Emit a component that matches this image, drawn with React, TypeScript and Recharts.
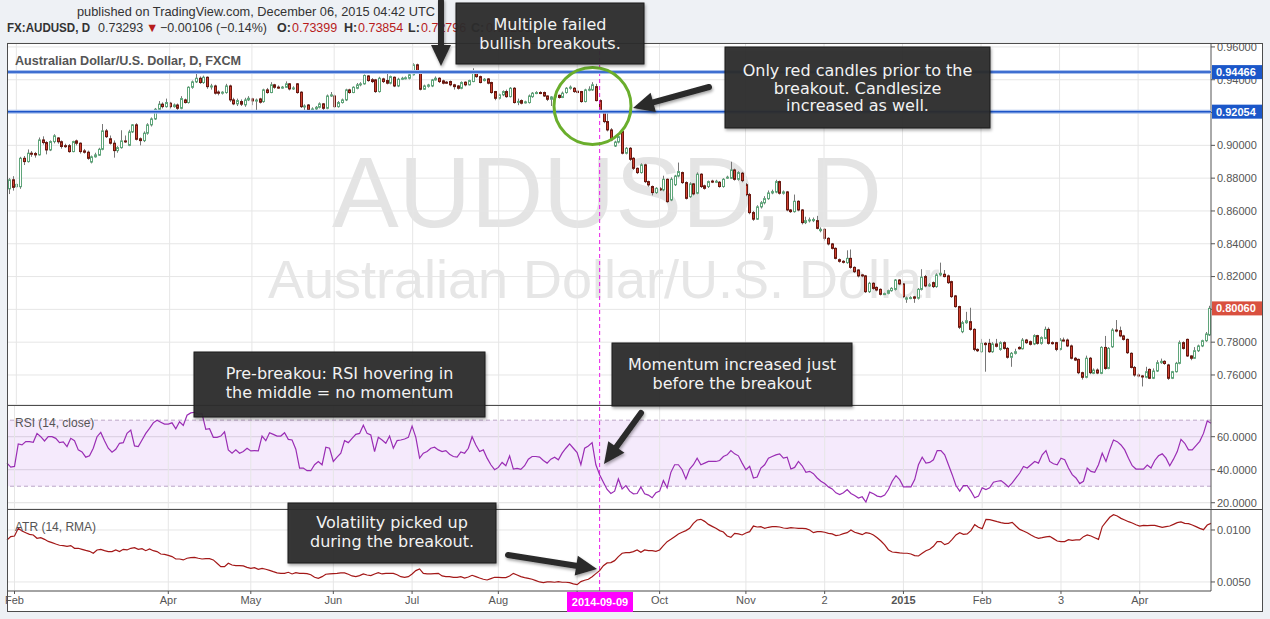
import React from "react";
import {
  ComposedChart,
  Bar,
  Line,
  XAxis,
  YAxis,
  CartesianGrid,
  ReferenceLine,
  ReferenceArea,
} from "recharts";

// daily AUD/USD candles, prices in pips (x 1e-4)
const opens = [
  8735, 8790, 8748, 8748, 8921, 8901, 8952, 8950, 8942, 9033,
  9017, 8972, 9023, 9045, 9022, 8998, 8998, 8962, 9027, 9013,
  8966, 8958, 8898, 8930, 8940, 8976, 9088, 9040, 9013, 8968,
  8986, 9027, 9000, 9082, 9125, 9040, 9029, 9074, 9125, 9161,
  9220, 9251, 9236, 9257, 9236, 9246, 9226, 9277, 9261, 9354,
  9387, 9409, 9383, 9415, 9358, 9362, 9325, 9318, 9322, 9362,
  9277, 9253, 9267, 9247, 9277, 9283, 9271, 9283, 9267, 9338,
  9322, 9369, 9355, 9352, 9354, 9375, 9344, 9375, 9324, 9236,
  9246, 9218, 9222, 9232, 9253, 9226, 9301, 9301, 9236, 9261,
  9277, 9338, 9322, 9348, 9369, 9375, 9423, 9400, 9399, 9328,
  9405, 9395, 9379, 9415, 9362, 9403, 9409, 9409, 9430, 9491,
  9440, 9342, 9360, 9362, 9399, 9409, 9393, 9385, 9389, 9369,
  9362, 9348, 9385, 9369, 9389, 9450, 9419, 9395, 9405, 9383,
  9328, 9287, 9308, 9328, 9297, 9348, 9265, 9273, 9260, 9261,
  9297, 9318, 9322, 9322, 9301, 9281, 9295, 9305, 9292, 9322,
  9348, 9348, 9330, 9328, 9267, 9338, 9338, 9358, 9273, 9206,
  9145, 9094, 8996, 9020, 9084, 8952, 8982, 8921, 8860, 8834,
  8881, 8779, 8749, 8712, 8735, 8728, 8793, 8667, 8760, 8813,
  8834, 8773, 8687, 8765, 8708, 8824, 8753, 8749, 8782, 8775,
  8775, 8749, 8800, 8799, 8850, 8793, 8830, 8760, 8700, 8590,
  8550, 8625, 8650, 8675, 8710, 8715, 8779, 8708, 8716, 8606,
  8596, 8659, 8606, 8529, 8540, 8541, 8541, 8480, 8488, 8433,
  8399, 8372, 8303, 8293, 8285, 8311, 8256, 8240, 8210, 8204,
  8108, 8159, 8134, 8122, 8092, 8098, 8114, 8122, 8179, 8155,
  8062, 8070, 8076, 8068, 8122, 8200, 8143, 8163, 8139, 8210,
  8214, 8204, 8169, 8082, 8017, 7864, 7919, 7925, 7878, 7756,
  7742, 7793, 7793, 7742, 7789, 7756, 7797, 7762, 7708, 7732,
  7768, 7760, 7813, 7803, 7789, 7840, 7793, 7823, 7878, 7797,
  7797, 7756, 7813, 7813, 7777, 7702, 7695, 7614, 7586, 7702,
  7610, 7630, 7610, 7768, 7640, 7772, 7874, 7870, 7838, 7817,
  7732, 7646, 7600, 7594, 7586, 7634, 7580, 7624, 7675, 7683,
  7661, 7580, 7620, 7671, 7797, 7817, 7716, 7702, 7748, 7777,
  7809, 7844,
];

const highs = [
  8800, 8812, 8770, 8930, 8935, 8975, 8965, 8960, 9048, 9055,
  9025, 9030, 9068, 9050, 9030, 9010, 9008, 9028, 9035, 9018,
  8978, 8968, 8938, 8955, 8985, 9130, 9100, 9060, 9030, 8995,
  9092, 9060, 9095, 9130, 9135, 9048, 9085, 9135, 9170, 9228,
  9270, 9262, 9285, 9265, 9255, 9255, 9300, 9285, 9360, 9395,
  9460, 9420, 9425, 9420, 9375, 9370, 9335, 9330, 9375, 9370,
  9290, 9285, 9280, 9290, 9300, 9290, 9285, 9290, 9345, 9350,
  9385, 9375, 9365, 9362, 9390, 9380, 9360, 9380, 9330, 9250,
  9252, 9232, 9240, 9262, 9258, 9310, 9325, 9310, 9270, 9285,
  9345, 9345, 9360, 9380, 9385, 9432, 9428, 9410, 9405, 9418,
  9412, 9440, 9425, 9420, 9412, 9418, 9420, 9438, 9501, 9498,
  9445, 9370, 9375, 9405, 9420, 9415, 9400, 9392, 9395, 9375,
  9368, 9390, 9390, 9400, 9470, 9455, 9425, 9410, 9410, 9388,
  9332, 9315, 9335, 9340, 9355, 9355, 9285, 9280, 9272, 9310,
  9325, 9330, 9330, 9328, 9305, 9300, 9312, 9310, 9328, 9355,
  9365, 9355, 9335, 9332, 9345, 9360, 9385, 9375, 9280, 9215,
  9200, 9105, 9028, 9075, 9090, 8990, 8990, 8928, 8865, 8890,
  8888, 8785, 8755, 8745, 8745, 8815, 8798, 8805, 8820, 8895,
  8840, 8780, 8775, 8770, 8835, 8830, 8760, 8785, 8790, 8790,
  8782, 8800, 8815, 8900, 8858, 8842, 8838, 8770, 8710, 8600,
  8635, 8660, 8690, 8725, 8730, 8790, 8785, 8725, 8722, 8612,
  8700, 8665, 8612, 8565, 8560, 8560, 8570, 8500, 8495, 8440,
  8405, 8378, 8310, 8300, 8360, 8365, 8262, 8245, 8215, 8210,
  8168, 8165, 8140, 8128, 8102, 8120, 8135, 8185, 8185, 8160,
  8078, 8080, 8082, 8130, 8245, 8210, 8160, 8170, 8220, 8285,
  8240, 8212, 8175, 8088, 8022, 7930, 7985, 8010, 7885, 7762,
  7820, 7800, 7820, 7800, 7820, 7805, 7805, 7770, 7740, 7760,
  7775, 7825, 7820, 7810, 7848, 7845, 7835, 7895, 7890, 7805,
  7802, 7825, 7828, 7822, 7785, 7710, 7700, 7620, 7718, 7710,
  7640, 7640, 7775, 7838, 7770, 7885, 7935, 7895, 7845, 7822,
  7738, 7655, 7610, 7600, 7650, 7640, 7640, 7690, 7700, 7690,
  7668, 7625, 7680, 7810, 7805, 7822, 7720, 7770, 7785, 7815,
  7862, 8022,
];

const lows = [
  8703, 8724, 8740, 8735, 8880, 8895, 8930, 8925, 8938, 9005,
  8945, 8965, 9012, 9010, 8980, 8985, 8955, 8958, 9000, 8950,
  8950, 8912, 8890, 8925, 8935, 8970, 9045, 9005, 8925, 8955,
  8980, 9015, 8995, 9075, 9030, 9000, 9020, 9065, 9115, 9155,
  9215, 9225, 9230, 9225, 9230, 9215, 9220, 9255, 9255, 9345,
  9380, 9375, 9375, 9345, 9340, 9310, 9305, 9310, 9315, 9265,
  9245, 9240, 9240, 9235, 9270, 9245, 9210, 9255, 9260, 9315,
  9318, 9345, 9345, 9345, 9350, 9335, 9338, 9315, 9228, 9215,
  9210, 9210, 9215, 9225, 9210, 9220, 9295, 9228, 9230, 9255,
  9270, 9315, 9318, 9342, 9360, 9370, 9388, 9380, 9320, 9322,
  9380, 9372, 9372, 9355, 9355, 9398, 9402, 9402, 9425, 9435,
  9335, 9338, 9352, 9355, 9395, 9380, 9372, 9375, 9360, 9340,
  9340, 9342, 9360, 9365, 9385, 9412, 9378, 9390, 9372, 9315,
  9275, 9280, 9300, 9290, 9292, 9255, 9245, 9250, 9255, 9255,
  9290, 9312, 9312, 9295, 9270, 9240, 9288, 9285, 9288, 9315,
  9340, 9320, 9318, 9260, 9262, 9330, 9332, 9268, 9198, 9135,
  9085, 9025, 8990, 9012, 8945, 8945, 8905, 8850, 8825, 8828,
  8770, 8748, 8695, 8705, 8722, 8720, 8650, 8660, 8752, 8805,
  8765, 8670, 8680, 8695, 8702, 8740, 8730, 8740, 8770, 8770,
  8742, 8742, 8795, 8795, 8785, 8785, 8775, 8690, 8580, 8540,
  8545, 8615, 8640, 8668, 8702, 8708, 8700, 8700, 8598, 8588,
  8590, 8598, 8518, 8520, 8530, 8532, 8488, 8470, 8420, 8390,
  8365, 8305, 8285, 8280, 8278, 8248, 8222, 8195, 8196, 8100,
  8100, 8120, 8110, 8085, 8088, 8092, 8108, 8115, 8148, 8070,
  8040, 8062, 8040, 8060, 8115, 8135, 8138, 8130, 8132, 8202,
  8195, 8155, 8070, 8010, 7880, 7855, 7912, 7870, 7745, 7740,
  7735, 7620, 7735, 7735, 7768, 7748, 7755, 7700, 7650, 7725,
  7755, 7755, 7790, 7780, 7782, 7785, 7785, 7818, 7785, 7785,
  7745, 7750, 7805, 7770, 7695, 7685, 7605, 7572, 7580, 7605,
  7605, 7605, 7605, 7632, 7635, 7765, 7860, 7830, 7810, 7728,
  7640, 7590, 7585, 7530, 7580, 7575, 7575, 7618, 7668, 7662,
  7570, 7575, 7615, 7665, 7755, 7710, 7690, 7698, 7740, 7770,
  7802, 7838,
];

const closes = [
  8790, 8744, 8762, 8921, 8901, 8952, 8946, 8942, 9033, 9017,
  8972, 9023, 9058, 9022, 8993, 8996, 8962, 9023, 9013, 8962,
  8958, 8921, 8930, 8942, 8976, 9088, 9053, 9013, 8968, 8986,
  9027, 9023, 9082, 9125, 9037, 9029, 9074, 9125, 9161, 9220,
  9251, 9236, 9261, 9236, 9246, 9226, 9285, 9261, 9354, 9387,
  9409, 9383, 9415, 9358, 9362, 9318, 9318, 9324, 9362, 9277,
  9253, 9273, 9251, 9277, 9287, 9271, 9276, 9263, 9338, 9322,
  9369, 9354, 9352, 9355, 9375, 9344, 9350, 9322, 9236, 9240,
  9216, 9222, 9232, 9253, 9226, 9301, 9308, 9236, 9261, 9277,
  9338, 9322, 9354, 9369, 9375, 9426, 9395, 9389, 9328, 9409,
  9389, 9379, 9419, 9362, 9403, 9409, 9412, 9430, 9491, 9440,
  9342, 9362, 9368, 9399, 9409, 9389, 9379, 9382, 9369, 9358,
  9348, 9383, 9369, 9395, 9456, 9419, 9383, 9403, 9379, 9322,
  9287, 9308, 9328, 9297, 9348, 9261, 9268, 9257, 9265, 9301,
  9318, 9322, 9320, 9301, 9281, 9295, 9305, 9292, 9318, 9348,
  9355, 9328, 9322, 9267, 9338, 9342, 9369, 9273, 9206, 9145,
  9094, 9033, 9020, 9053, 8952, 8982, 8915, 8860, 8834, 8881,
  8779, 8759, 8712, 8738, 8730, 8793, 8657, 8793, 8813, 8840,
  8773, 8677, 8765, 8704, 8824, 8749, 8738, 8779, 8777, 8781,
  8749, 8793, 8806, 8850, 8793, 8834, 8785, 8700, 8590, 8550,
  8625, 8650, 8675, 8710, 8718, 8779, 8708, 8716, 8606, 8596,
  8659, 8606, 8529, 8541, 8546, 8548, 8494, 8488, 8433, 8399,
  8372, 8311, 8293, 8287, 8311, 8256, 8230, 8204, 8204, 8108,
  8159, 8128, 8118, 8092, 8096, 8114, 8128, 8179, 8155, 8078,
  8070, 8072, 8068, 8122, 8196, 8143, 8150, 8139, 8210, 8220,
  8200, 8163, 8078, 8017, 7891, 7919, 7931, 7878, 7756, 7748,
  7793, 7785, 7742, 7789, 7775, 7797, 7762, 7708, 7732, 7742,
  7760, 7813, 7797, 7787, 7840, 7793, 7828, 7878, 7793, 7793,
  7756, 7813, 7812, 7777, 7702, 7691, 7614, 7586, 7702, 7614,
  7630, 7612, 7768, 7640, 7762, 7874, 7868, 7838, 7817, 7736,
  7646, 7600, 7594, 7590, 7620, 7580, 7624, 7675, 7683, 7670,
  7580, 7620, 7671, 7797, 7762, 7716, 7702, 7748, 7777, 7809,
  7850, 8006,
];

// RSI (14, close)
const rsiValues = [
  44, 41.6, 42, 55.6, 55, 57, 57, 56.6, 62, 60,
  57.4, 60, 60, 59, 56.4, 56.8, 54, 59, 57.6, 52,
  50.8, 47.6, 48.4, 53, 60, 62.6, 57.6, 53, 50.6, 52.4,
  56, 56.4, 62, 64, 54.4, 54, 58, 62, 65, 68.4,
  70, 68.8, 67.6, 67.6, 68.4, 64.8, 69, 66.8, 73, 74.4,
  74.8, 73.6, 74, 64.4, 64.8, 59.6, 59.6, 60.4, 63, 52,
  50, 52, 50, 51, 53, 51.4, 51.6, 51.4, 60.4, 57.6,
  62.4, 61.4, 60.4, 60.4, 62.4, 58.4, 58, 52.4, 41, 41,
  39.4, 39.4, 43, 45, 43, 53.6, 53, 45, 47.6, 50,
  57.6, 56.4, 59, 61.4, 62, 67, 62, 61, 51, 59.6,
  58, 56, 60.4, 53, 57.6, 58, 58.6, 59.6, 66.4, 59.6,
  47, 50, 51, 53, 53.6, 52, 51, 51.6, 49.4, 48,
  47.6, 50.8, 50, 53, 60, 55, 51, 52, 47, 43,
  40, 41.4, 44.4, 42.4, 48.4, 40.4, 40.8, 40.2, 42.4, 46.4,
  48, 48, 47.6, 45.6, 44, 46.4, 47.6, 46, 50, 53,
  55.6, 53, 50.4, 43, 53, 54.4, 56.4, 43, 37, 32.4,
  28, 25.6, 27, 34.4, 28.4, 30.4, 27, 25.4, 25.6, 29.6,
  25.4, 24.6, 23, 26, 27, 33.4, 29, 38.4, 43, 43,
  40, 34.4, 40.4, 43, 47, 43, 44, 45, 45, 45,
  45.6, 48, 49, 51.6, 49.6, 48.4, 44, 40, 42, 35,
  35.6, 41, 43, 47, 48, 49, 49.6, 47, 47.6, 40.4,
  41.4, 45, 42.4, 38.4, 39, 37.6, 35, 33, 31.6, 29.6,
  28.4, 26, 25, 26, 28, 25.6, 24.4, 22.8, 23.6, 20.4,
  26.4, 25.4, 24, 23.6, 24.6, 28, 33, 36.4, 34, 29.6,
  29.6, 29.6, 34, 43, 47.6, 44, 44.4, 46, 51.6, 51.6,
  49, 43, 37, 30.4, 27, 30.4, 30.4, 27, 23, 24,
  29, 28, 29, 32.4, 33, 33.4, 31.6, 29.6, 32, 35,
  38, 42, 41, 43, 45, 44, 49, 51.6, 45, 43.6,
  43, 47, 46, 41, 37, 35, 31.6, 33, 41, 39,
  38.4, 43, 50, 45, 52, 58, 57, 55, 52, 47,
  42.4, 40.4, 40.4, 40.4, 42.8, 41, 45.6, 48.4, 49.6, 47,
  42.4, 46.4, 51, 58.4, 56, 52, 52, 54.6, 57.2, 62,
  69.5, 68.2,
];

// ATR (14, RMA) in pips
const atrValues = [
  90.4, 93.6, 94.2, 101.6, 99, 97.4, 95.8, 95.2, 92, 92.6,
  91, 89, 87.8, 86.5, 85.3, 85, 84.3, 85, 82.4, 82.4,
  81.4, 80.4, 79.5, 77.6, 80.8, 81.4, 80.1, 79.2, 79.2, 80.8,
  79.2, 81.4, 80.8, 82.4, 83, 81.4, 82, 80.1, 81.7, 80.1,
  79.2, 76.9, 76.6, 75.6, 74.4, 72.1, 72.1, 71.2, 72.8, 73.4,
  73.7, 72.8, 72.1, 72.4, 72.4, 71.2, 68, 64.7, 64.7, 68,
  66.3, 65.7, 65.7, 65.4, 64.1, 63.1, 63.8, 62.2, 63.1, 62.2,
  61.2, 59.9, 58.7, 58.3, 58.3, 59.3, 57.7, 59, 58.3, 58.3,
  58, 57, 54.5, 53.5, 55.1, 57.4, 57.7, 58, 58.3, 58.7,
  58.7, 57.4, 55.8, 55.1, 56.1, 57.7, 56.7, 56.1, 57.7, 59,
  57.7, 58.3, 58.3, 58.3, 57, 55.1, 54.5, 55.1, 57.7, 60.9,
  62.5, 58.3, 57.7, 57.7, 58, 58.3, 55.8, 55.1, 55.1, 54.5,
  54.5, 55.1, 53.8, 54.8, 56.4, 55.1, 53.8, 52.6, 51.9, 53.2,
  54.5, 54.5, 54.2, 54.2, 55.8, 58.3, 56.7, 55.1, 54.2, 53.5,
  52.6, 51.3, 50, 49.4, 50, 50, 49.7, 50.3, 49.7, 49.7,
  49.4, 48.1, 47.4, 50.3, 51.6, 52.6, 55.1, 58, 60.9, 65.7,
  68.3, 68.6, 70.5, 74.4, 77.6, 78.2, 78.2, 79.2, 80.8, 78.5,
  80.8, 80.1, 80.1, 79.5, 80.8, 84.9, 88.8, 91, 93.6, 96.2,
  97.8, 99.4, 101.6, 106.4, 109.6, 110.3, 108.3, 105.4, 103.5, 101.6,
  99.4, 98.1, 94.2, 92.9, 96.8, 96.2, 95.2, 97.1, 98.4, 103.8,
  102.9, 103.2, 101.6, 102.6, 103.2, 103.2, 102.9, 101.9, 101.6, 102.2,
  101.9, 101.6, 101.6, 101.3, 100, 97.4, 98.4, 98.4, 97.8, 96.8,
  96.2, 94.6, 95.2, 96.5, 97.4, 100, 97.8, 96.8, 95.5, 97.4,
  96.8, 95.2, 92.6, 89.4, 85.6, 80.8, 78.8, 78.5, 77.9, 77.6,
  77.6, 76.9, 75.3, 75, 77.6, 80.1, 81.4, 84.3, 88.8, 88.8,
  85.9, 87.2, 91, 95.2, 97.4, 95.8, 96.2, 99.4, 105.1, 102.6,
  101.3, 110.3, 109.9, 109, 108, 107.1, 106.4, 106.4, 107.4, 103.8,
  100.6, 99, 97.4, 95.2, 93.3, 92, 92.6, 93.3, 93.9, 91.7,
  89.4, 88.8, 88.8, 90.7, 90.1, 90.4, 90.4, 93.6, 95.2, 94.2,
  92.6, 91, 103.2, 107.7, 112.2, 114.7, 113.5, 111.2, 109.6, 108,
  106.7, 105.1, 103.8, 104.5, 104.2, 104.5, 104.5, 103.5, 102.6, 103.2,
  103.8, 105.4, 107.1, 107.7, 106.4, 106.1, 104.8, 103.2, 101.6, 100.3,
  104.8, 106.4,
];

// month gridlines (bar index) and the labels TradingView shows under them
const monthTicks = [2, 43, 65, 87, 108, 131, 152, 174, 197, 218, 239, 260, 281, 302];
const monthLabels = ["Feb", "Apr", "May", "Jun", "Jul", "Aug", "", "Oct", "Nov", "2", "2015", "Feb", "3", "Apr"];
const priceTicks = [0.76, 0.78, 0.8, 0.82, 0.84, 0.86, 0.88, 0.9, 0.92, 0.94, 0.96];
const rsiTicks = [20, 40, 60];
const atrTicks = [0.005, 0.01];
const resistance = 0.94466;
const support = 0.92054;
const breakoutBar = 158;
const breakoutLabel = "2014-09-09";

const bars = closes.map((c, i) => ({
  i,
  open: opens[i] / 10000,
  high: highs[i] / 10000,
  low: lows[i] / 10000,
  close: c / 10000,
  range: [lows[i] / 10000, highs[i] / 10000],
  rsi: rsiValues[i],
  atr: atrValues[i] / 10000,
}));
const lastClose = bars[bars.length - 1].close;

const FONT = "'Liberation Sans', Arial, sans-serif";
const BOX_FONT = "'DejaVu Sans', Verdana, sans-serif";
const GRID = "#e6e6e6";
const MAGENTA = "#e81ce8";
const PRICE_DOMAIN = [0.7417, 0.9624];

const Candle = (props: any) => {
  const { x, y, width, height, payload } = props;
  if (!payload || height == null || isNaN(y)) return null;
  const { open, close, high, low } = payload;
  const span = high - low || 1e-9;
  const py = (v: number) => y + ((high - v) / span) * height;
  const cx = Math.round(x + width / 2);
  const up = close >= open;
  const top = py(Math.max(open, close));
  const bot = py(Math.min(open, close));
  const bh = Math.max(bot - top, 1);
  return (
    <g>
      <line x1={cx + 0.5} x2={cx + 0.5} y1={y} y2={y + height} stroke="#777" strokeWidth={1} />
      <rect
        x={cx - 0.5}
        y={top}
        width={2}
        height={bh}
        fill={up ? "#ffffff" : "#d0402f"}
        stroke={up ? "#5fa57a" : "#6a1810"}
        strokeWidth={1}
      />
    </g>
  );
};

const priceTag = (viewBox: any, value: number, color: string) => {
  if (!viewBox) return null;
  const x = viewBox.x + viewBox.width + 1;
  const y = viewBox.y;
  return (
    <g>
      <rect x={x} y={y - 7} width={50} height={14} fill={color} />
      <text x={x + 4} y={y + 4} fill="#fff" fontSize={11} fontWeight="bold" fontFamily={FONT}>
        {value.toFixed(5)}
      </text>
    </g>
  );
};

const yTick = { fontSize: 11, fill: "#555", fontFamily: FONT };

const MonthTick = (props: any) => {
  const { x, y, payload } = props;
  const k = monthTicks.indexOf(payload.value);
  const label = k >= 0 ? monthLabels[k] : "";
  if (!label) return null;
  return (
    <text x={x} y={y} dy="0.71em" textAnchor="middle" fontSize={11} fill="#555" fontFamily={FONT} fontWeight={label === "2015" ? "bold" : "normal"}>
      {label}
    </text>
  );
};

const Arrow = ({ x1, y1, x2, y2 }: { x1: number; y1: number; x2: number; y2: number }) => {
  const dx = x2 - x1;
  const dy = y2 - y1;
  const L = Math.hypot(dx, dy);
  const ux = dx / L;
  const uy = dy / L;
  const nx = -uy;
  const ny = ux;
  const hl = 21;
  const hw = 10;
  const bx = x2 - ux * hl;
  const by = y2 - uy * hl;
  return (
    <g filter="url(#shadow)">
      <line x1={x1} y1={y1} x2={bx + ux * 3} y2={by + uy * 3} stroke="#2a2a2a" strokeWidth={6} strokeLinecap="round" />
      <polygon points={`${x2},${y2} ${bx + nx * hw},${by + ny * hw} ${bx - nx * hw},${by - ny * hw}`} fill="#2a2a2a" />
    </g>
  );
};

const Note = ({ x, y, w, h, lines, base, step }: { x: number; y: number; w: number; h: number; lines: string[]; base: number; step: number }) => (
  <g>
    <rect x={x} y={y} width={w} height={h} fill="#2b2b2b" fillOpacity={0.93} stroke="#1c1c1c" filter="url(#shadow)" />
    {lines.map((t, k) => (
      <text key={k} x={x + w / 2} y={base + k * step} textAnchor="middle" fill="#f2f2f2" fontSize={16} fontFamily={BOX_FONT}>
        {t}
      </text>
    ))}
  </g>
);

const abs = (left: number, top: number): React.CSSProperties => ({ position: "absolute", left, top });
const noMargin = { top: 0, right: 0, bottom: 0, left: 0 };

export default function App() {
  return (
    <div style={{ position: "absolute", left: 0, top: 0, width: 1270, height: 619, background: "#eef1f5", overflow: "hidden" }}>
      <style>{".recharts-surface { overflow: visible; }"}</style>
      <div style={{ ...abs(7, 43), width: 1256, height: 569, background: "#fff" }} />

      <svg width={1270} height={619} style={abs(0, 0)}>
        <text x={607} y={227} textAnchor="middle" fontSize={100} fill="#e4e4e4" fontFamily={FONT}>
          AUDUSD, D
        </text>
        <text x={604} y={298} textAnchor="middle" fontSize={54} fill="#e6e6e6" fontFamily={FONT}>
          Australian Dollar/U.S. Dollar
        </text>
      </svg>

      {/* price pane */}
      <div style={abs(7, 43)}>
        <ComposedChart width={1256} height={362} data={bars} margin={noMargin} barCategoryGap={0}>
          <CartesianGrid vertical={false} stroke={GRID} />
          <XAxis dataKey="i" type="category" hide />
          <YAxis
            orientation="right"
            domain={PRICE_DOMAIN}
            allowDataOverflow
            ticks={priceTicks}
            interval={0}
            width={52}
            tickFormatter={(v: number) => v.toFixed(5)}
            tick={yTick}
            tickSize={4}
            tickMargin={2}
            stroke="#555"
          />
          {monthTicks.map((t) => (
            <ReferenceLine key={t} x={t} stroke={GRID} />
          ))}
          <ReferenceLine x={breakoutBar} stroke={MAGENTA} strokeDasharray="4 3" />
          <Bar dataKey="range" shape={Candle} isAnimationActive={false} />
        </ComposedChart>
      </div>

      {/* horizontal levels and their price tags, drawn above the price axis */}
      <div style={abs(7, 43)}>
        <ComposedChart width={1256} height={362} data={bars} margin={{ top: 0, right: 52, bottom: 0, left: 0 }}>
          <XAxis dataKey="i" type="category" hide />
          <YAxis domain={PRICE_DOMAIN} allowDataOverflow hide />
          <ReferenceLine y={resistance} stroke="#a9c0ec" strokeWidth={4} />
          <ReferenceLine y={support} stroke="#a9c0ec" strokeWidth={4} />
          <ReferenceLine y={resistance} stroke="#1d55c8" strokeWidth={1.5} label={{ content: (p: any) => priceTag(p.viewBox, resistance, "#1b57c9") }} />
          <ReferenceLine y={support} stroke="#1d55c8" strokeWidth={1.5} label={{ content: (p: any) => priceTag(p.viewBox, support, "#1b57c9") }} />
          <ReferenceLine y={lastClose} stroke="none" strokeOpacity={0} label={{ content: (p: any) => priceTag(p.viewBox, lastClose, "#d9503f") }} />
        </ComposedChart>
      </div>

      {/* RSI pane */}
      <div style={abs(7, 405)}>
        <ComposedChart width={1256} height={104} data={bars} margin={noMargin}>
          <ReferenceArea y1={30} y2={70} fill="#a040e8" fillOpacity={0.11} stroke="none" />
          <CartesianGrid vertical={false} stroke="#e0e0e0" />
          <XAxis dataKey="i" type="category" hide />
          <YAxis
            orientation="right"
            domain={[16.2, 79.2]}
            allowDataOverflow
            ticks={rsiTicks}
            interval={0}
            width={52}
            tickFormatter={(v: number) => v.toFixed(4)}
            tick={yTick}
            tickSize={4}
            tickMargin={2}
            stroke="#555"
          />
          {monthTicks.map((t) => (
            <ReferenceLine key={t} x={t} stroke={GRID} />
          ))}
          <ReferenceLine y={70} stroke="#bca6c8" strokeDasharray="4 3" />
          <ReferenceLine y={30} stroke="#bca6c8" strokeDasharray="4 3" />
          <ReferenceLine x={breakoutBar} stroke={MAGENTA} strokeDasharray="4 3" />
          <Line dataKey="rsi" stroke="#9a2db4" strokeWidth={1.2} dot={false} isAnimationActive={false} />
        </ComposedChart>
      </div>

      {/* ATR pane with the time axis */}
      <div style={abs(7, 509)}>
        <ComposedChart width={1256} height={103} data={bars} margin={noMargin}>
          <CartesianGrid vertical={false} stroke={GRID} />
          <XAxis
            dataKey="i"
            type="category"
            ticks={monthTicks}
            interval={0}
            height={21}
            tick={MonthTick}
            tickSize={3}
            tickMargin={2}
            stroke="#555"
          />
          <YAxis
            orientation="right"
            domain={[0.00413, 0.01202]}
            allowDataOverflow
            ticks={atrTicks}
            interval={0}
            width={52}
            tickFormatter={(v: number) => v.toFixed(4)}
            tick={yTick}
            tickSize={4}
            tickMargin={2}
            stroke="#555"
          />
          {monthTicks.map((t) => (
            <ReferenceLine key={t} x={t} stroke={GRID} />
          ))}
          <ReferenceLine x={breakoutBar} stroke={MAGENTA} strokeDasharray="4 3" />
          <Line dataKey="atr" stroke="#a31818" strokeWidth={1.2} dot={false} isAnimationActive={false} />
        </ComposedChart>
      </div>

      <svg width={1270} height={619} style={{ ...abs(0, 0), pointerEvents: "none" }}>
        <defs>
          <filter id="shadow" x="-20%" y="-20%" width="140%" height="140%">
            <feDropShadow dx="1" dy="2" stdDeviation="1.5" floodColor="#000" floodOpacity="0.35" />
          </filter>
        </defs>

        <rect x={7.5} y={43.5} width={1255} height={568} fill="none" stroke="#4d4d4d" />
        <line x1={7} x2={1263} y1={405.5} y2={405.5} stroke="#4d4d4d" />
        <line x1={7} x2={1263} y1={509.5} y2={509.5} stroke="#4d4d4d" />

        <text x={77} y={16} fontSize={13} fill="#333" fontFamily={FONT} textLength={358} lengthAdjust="spacingAndGlyphs">
          published on TradingView.com, December 06, 2015 04:42 UTC
        </text>
        <text y={32} fontSize={12.5} fontFamily={FONT} fill="#333">
          <tspan x={7} fontWeight="bold" textLength={83} lengthAdjust="spacingAndGlyphs">FX:AUDUSD, D</tspan>
          <tspan x={98}>0.73293</tspan>
          <tspan x={146} fill="#b71c1c">▼</tspan>
          <tspan x={160}>−0.00106 (−0.14%)</tspan>
          <tspan x={277} fontWeight="bold">O:</tspan>
          <tspan x={292} fill="#b71c1c">0.73399</tspan>
          <tspan x={344} fontWeight="bold">H:</tspan>
          <tspan x={358} fill="#b71c1c">0.73854</tspan>
          <tspan x={408} fontWeight="bold">L:</tspan>
          <tspan x={421} fill="#b71c1c">0.72796</tspan>
          <tspan x={471} fontWeight="bold">C:</tspan>
          <tspan x={486} fill="#b71c1c">0.73293</tspan>
        </text>

        <text x={15} y={65} fontSize={12.6} fontWeight="bold" fill="#555" fontFamily={FONT}>
          Australian Dollar/U.S. Dollar, D, FXCM
        </text>
        <text x={15} y={427} fontSize={12} fill="#555" fontFamily={FONT}>
          RSI (14, close)
        </text>
        <text x={15} y={531} fontSize={12} fill="#555" fontFamily={FONT}>
          ATR (14, RMA)
        </text>

        <circle cx={592.5} cy={106} r={38.5} fill="none" stroke="#6aae2c" strokeWidth={3} />

        <Note x={456} y={3} w={188} h={61} lines={["Multiple failed", "bullish breakouts."]} base={30} step={19} />
        <Note x={725} y={47} w={265} h={81} lines={["Only red candles prior to the", "breakout. Candlesize", "increased as well."]} base={76} step={17.5} />
        <Note x={194} y={352} w={291} h={65} lines={["Pre-breakou: RSI hovering in", "the middle = no momentum"]} base={379} step={18.5} />
        <Note x={612} y={343} w={240} h={63} lines={["Momentum increased just", "before the breakout"]} base={370} step={18.5} />
        <Note x={288} y={503} w={208} h={60} lines={["Volatility picked up", "during the breakout."]} base={528} step={18.5} />

        <Arrow x1={441} y1={1} x2={441} y2={66} />
        <Arrow x1={709} y1={87} x2={633} y2={108} />
        <Arrow x1={641} y1={413} x2={604} y2={464} />
        <Arrow x1={508} y1={555} x2={597} y2={569} />

        <rect x={567} y={592} width={66} height={20} fill="#ff00ff" />
        <text x={600} y={606} textAnchor="middle" fontSize={11} fontWeight="bold" fill="#fff" fontFamily={FONT}>
          {breakoutLabel}
        </text>
      </svg>
    </div>
  );
}
